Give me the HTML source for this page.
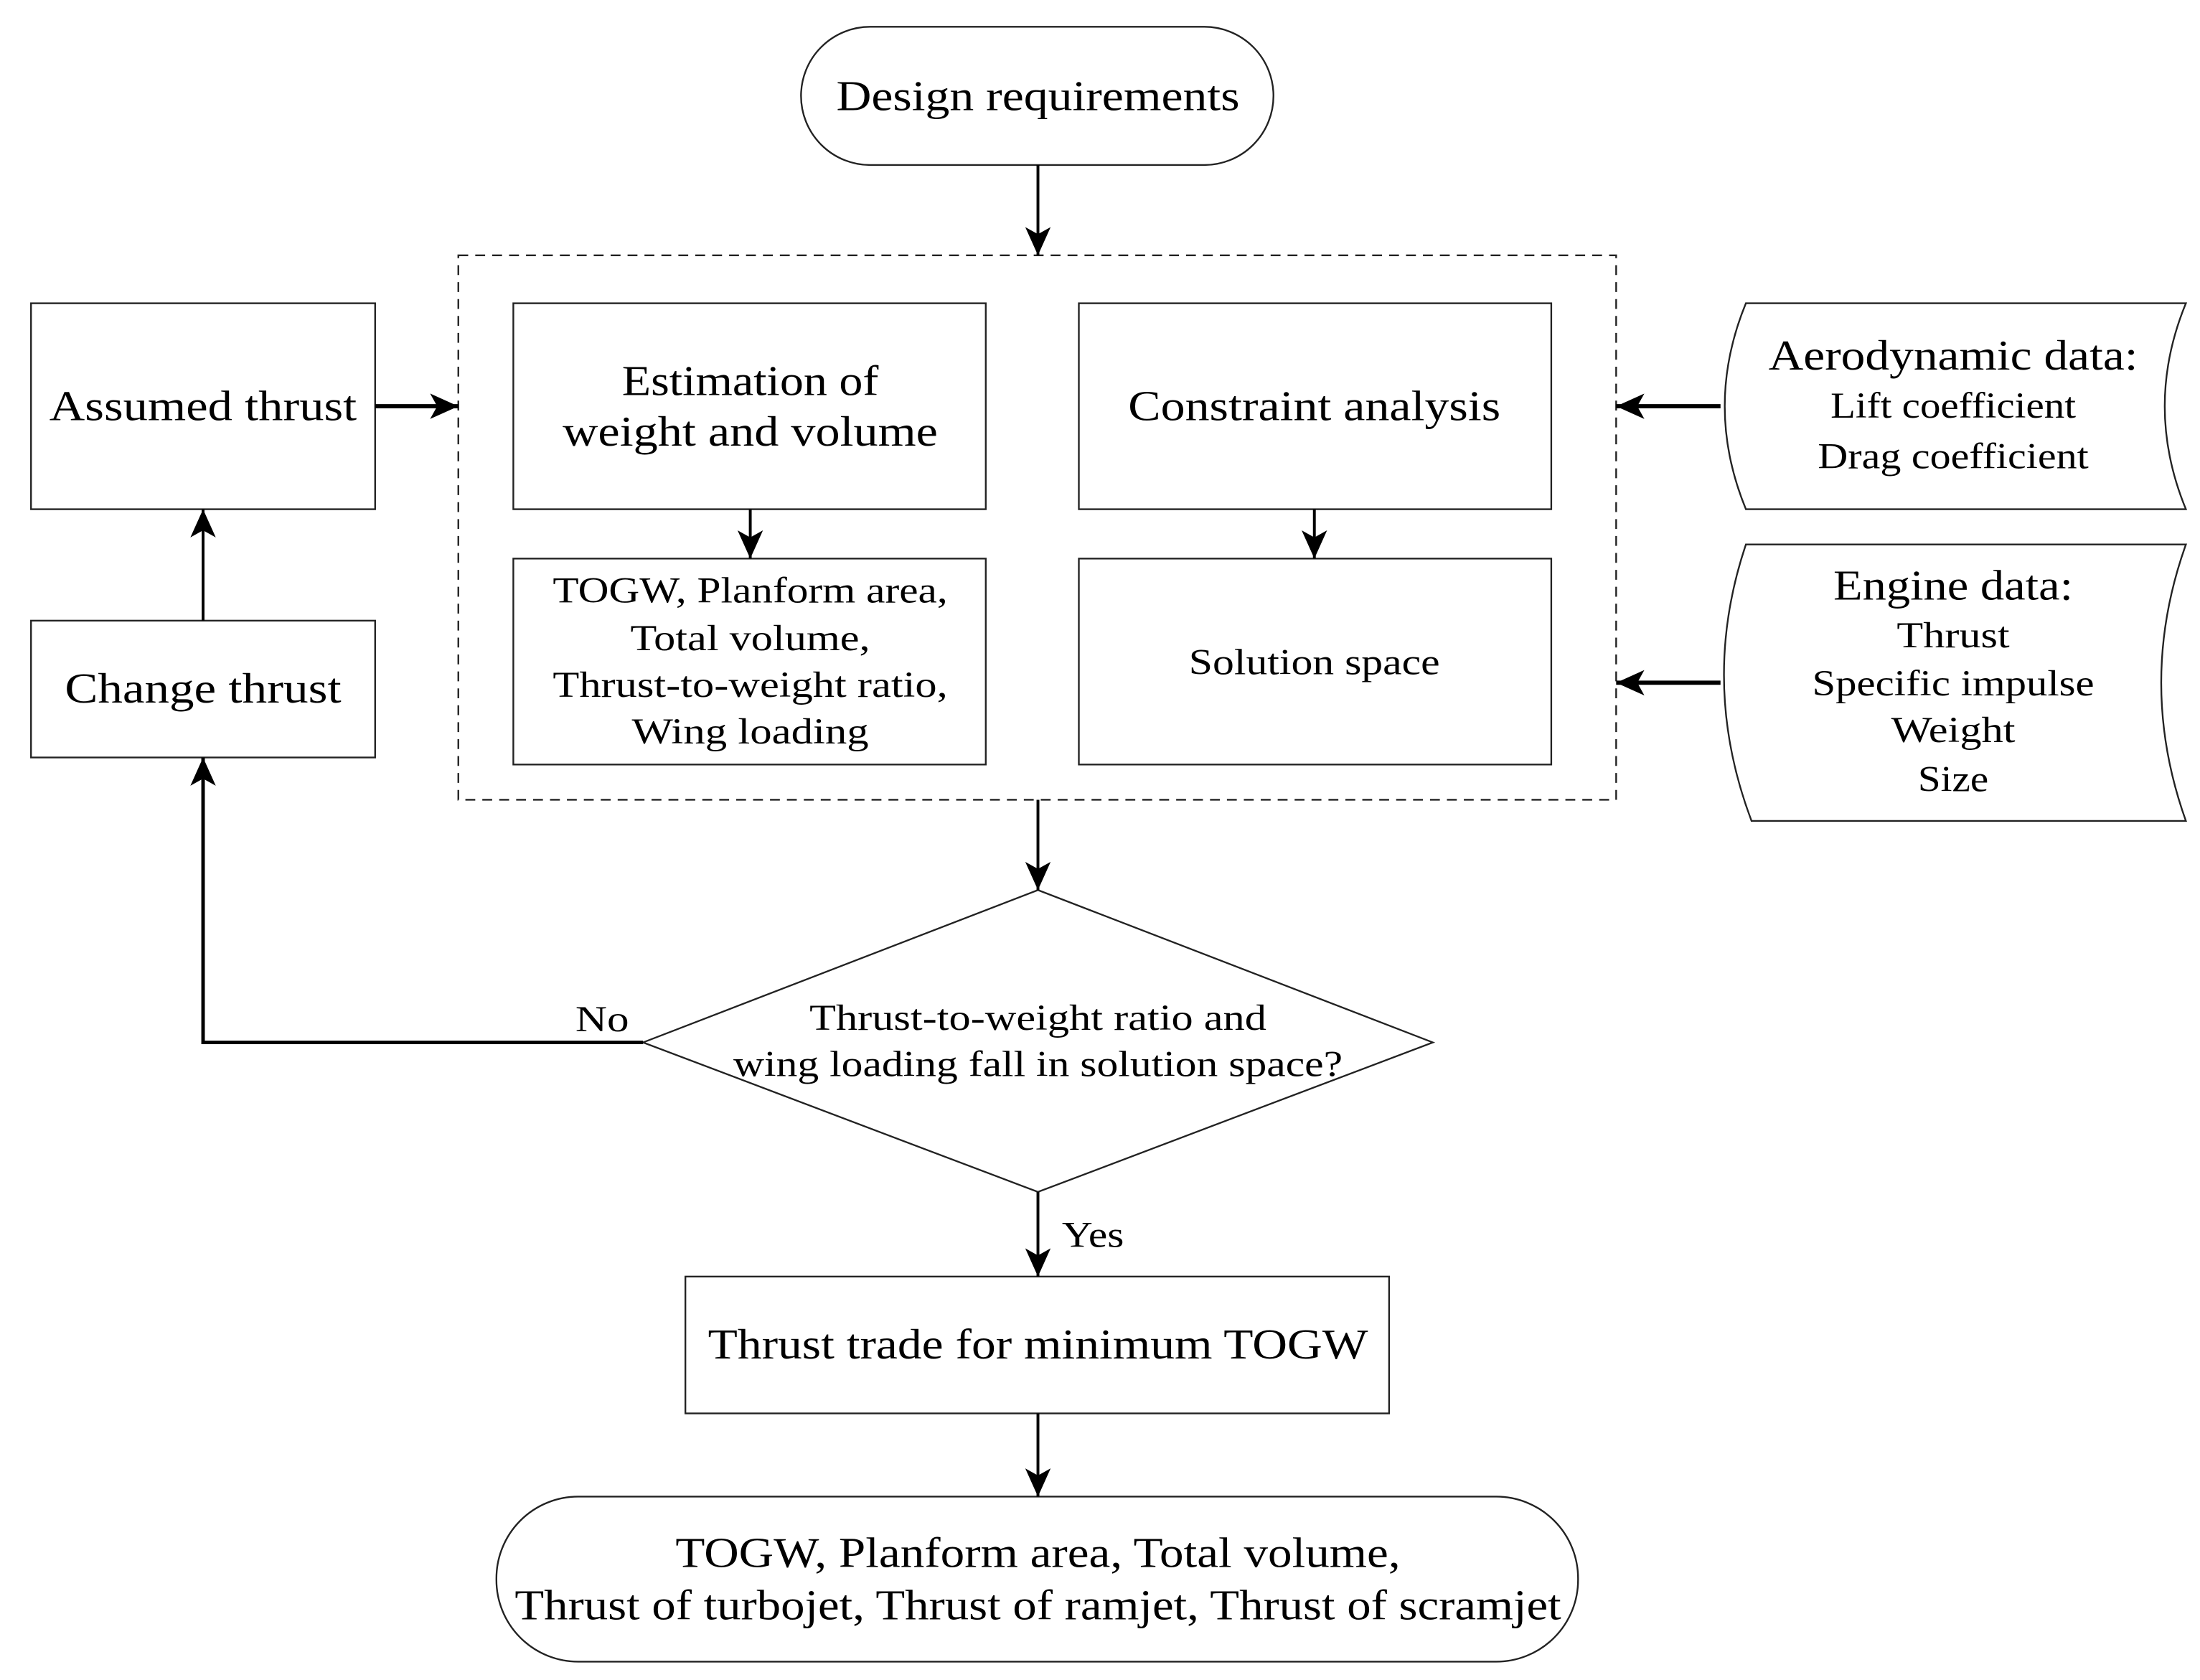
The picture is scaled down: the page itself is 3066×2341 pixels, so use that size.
<!DOCTYPE html>
<html><head><meta charset="utf-8"><style>html,body{margin:0;padding:0;background:#fff}svg{display:block}</style></head>
<body>
<svg width="3066" height="2341" viewBox="0 0 1560 1191" preserveAspectRatio="none" xmlns="http://www.w3.org/2000/svg" font-family="Liberation Serif, serif" fill="#000">
<defs>
<marker id="b" markerWidth="22" markerHeight="22" refX="20" refY="11" orient="auto" markerUnits="userSpaceOnUse"><path d="M0,2 L20,11 L0,20 L5,11 z"/></marker></defs>
<g stroke="#222" stroke-width="1.2" fill="none">
<rect x="568" y="19" width="335" height="98" rx="49"/>
<rect x="325" y="181" width="821" height="386" stroke-dasharray="7,5"/>
<rect x="22" y="215" width="244" height="146"/>
<rect x="364" y="215" width="335" height="146"/>
<rect x="765" y="215" width="335" height="146"/>
<rect x="364" y="396" width="335" height="146"/>
<rect x="765" y="396" width="335" height="146"/>
<rect x="22" y="440" width="244" height="97"/>
<path d="M1238,215 L1550,215 Q1520,288 1550,361 L1238,361 Q1208,288 1238,215 Z"/>
<path d="M1238,386 L1550,386 Q1515,484 1550,582 L1242,582 Q1205,484 1238,386 Z"/>
<path d="M736,631 L1016,739 L736,845 L456,739 Z"/>
<rect x="486" y="905" width="499" height="97"/>
<rect x="352" y="1061" width="767" height="117" rx="58"/>
</g>
<g stroke="#000" stroke-width="2" fill="none">
<line x1="736" y1="117" x2="736" y2="181" marker-end="url(#b)"/>
<line x1="266" y1="288" x2="325" y2="288" marker-end="url(#b)" stroke-width="3"/>
<line x1="532" y1="361" x2="532" y2="396" marker-end="url(#b)"/>
<line x1="932" y1="361" x2="932" y2="396" marker-end="url(#b)"/>
<line x1="1220" y1="288" x2="1146" y2="288" marker-end="url(#b)" stroke-width="3"/>
<line x1="1220" y1="484" x2="1146" y2="484" marker-end="url(#b)" stroke-width="3"/>
<line x1="144" y1="440" x2="144" y2="361" marker-end="url(#b)"/>
<line x1="736" y1="567" x2="736" y2="631" marker-end="url(#b)"/>
<path d="M456,739 L144,739 L144,537" marker-end="url(#b)" stroke-width="2.5"/>
<line x1="736" y1="845" x2="736" y2="905" marker-end="url(#b)"/>
<line x1="736" y1="1002" x2="736" y2="1061" marker-end="url(#b)"/>
</g>
<g text-anchor="middle" font-size="30">
<text x="736" y="78" textLength="286" lengthAdjust="spacingAndGlyphs">Design requirements</text>
<text x="144" y="298" textLength="218" lengthAdjust="spacingAndGlyphs">Assumed thrust</text>
<text x="532" y="280" textLength="182" lengthAdjust="spacingAndGlyphs">Estimation of</text>
<text x="532" y="316" textLength="266" lengthAdjust="spacingAndGlyphs">weight and volume</text>
<text x="932" y="298" textLength="264" lengthAdjust="spacingAndGlyphs">Constraint analysis</text>
<text x="1385" y="262" textLength="262" lengthAdjust="spacingAndGlyphs">Aerodynamic data:</text>
<text x="144" y="498" textLength="196" lengthAdjust="spacingAndGlyphs">Change thrust</text>
<text x="1385" y="425" textLength="170" lengthAdjust="spacingAndGlyphs">Engine data:</text>
<text x="736" y="963" textLength="468" lengthAdjust="spacingAndGlyphs">Thrust trade for minimum TOGW</text>
<text x="736" y="1111" textLength="514" lengthAdjust="spacingAndGlyphs">TOGW, Planform area, Total volume,</text>
<text x="736" y="1148" textLength="742" lengthAdjust="spacingAndGlyphs">Thrust of turbojet, Thrust of ramjet, Thrust of scramjet</text>
</g>
<g text-anchor="middle" font-size="26">
<text x="1385" y="296" textLength="174" lengthAdjust="spacingAndGlyphs">Lift coefficient</text>
<text x="1385" y="332" textLength="192" lengthAdjust="spacingAndGlyphs">Drag coefficient</text>
<text x="1385" y="459" textLength="80" lengthAdjust="spacingAndGlyphs">Thrust</text>
<text x="1385" y="493" textLength="200" lengthAdjust="spacingAndGlyphs">Specific impulse</text>
<text x="1385" y="526" textLength="88" lengthAdjust="spacingAndGlyphs">Weight</text>
<text x="1385" y="561" textLength="50" lengthAdjust="spacingAndGlyphs">Size</text>
<text x="532" y="427" textLength="280" lengthAdjust="spacingAndGlyphs">TOGW, Planform area,</text>
<text x="532" y="461" textLength="170" lengthAdjust="spacingAndGlyphs">Total volume,</text>
<text x="532" y="494" textLength="280" lengthAdjust="spacingAndGlyphs">Thrust-to-weight ratio,</text>
<text x="532" y="527" textLength="168" lengthAdjust="spacingAndGlyphs">Wing loading</text>
<text x="932" y="478" textLength="178" lengthAdjust="spacingAndGlyphs">Solution space</text>
<text x="736" y="730" textLength="324" lengthAdjust="spacingAndGlyphs">Thrust-to-weight ratio and</text>
<text x="736" y="763" textLength="432" lengthAdjust="spacingAndGlyphs">wing loading fall in solution space?</text>
<text x="427" y="731" textLength="38" lengthAdjust="spacingAndGlyphs">No</text>
<text x="775" y="884" textLength="44" lengthAdjust="spacingAndGlyphs">Yes</text>
</g>
</svg>
</body></html>
